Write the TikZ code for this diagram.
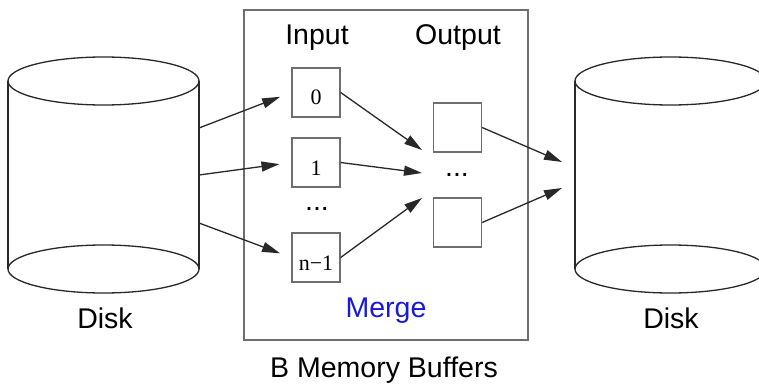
\documentclass[tikz,border=0pt]{standalone}
\usepackage{fontspec}
\setmainfont{Liberation Sans}
\newfontfamily\serifnum{Liberation Serif}
\usetikzlibrary{arrows.meta}
\definecolor{mergeblue}{RGB}{25,25,215}
\definecolor{edgegray}{RGB}{110,110,110}
\definecolor{linedark}{RGB}{40,40,40}
\begin{document}
\begin{tikzpicture}[x=1pt,y=-1pt,
  lbl/.style={font=\fontsize{28.5}{31}\selectfont, inner sep=0pt, anchor=base},
  buf/.style={draw=edgegray, line width=1.3pt, minimum width=48pt, minimum height=49pt, inner sep=0pt, font=\serifnum\fontsize{22}{25}\selectfont, text height=25pt, text depth=0pt},
  cyl/.style={draw=linedark, line width=1.3pt},
  flow/.style={draw=linedark, line width=1.3pt, -{Triangle[length=18pt,width=10pt]}},
]
\useasboundingbox (0,0) rectangle (759,385);

% memory box
\node[draw=edgegray, line width=2pt, minimum width=284pt, minimum height=330pt, inner sep=0pt] (mem) at (386,175) {};

% left disk
\draw[cyl] (103.5,81) ellipse [x radius=95.5, y radius=24];
\draw[cyl] (103.5,269) ellipse [x radius=95.5, y radius=24];
\draw[cyl] (8,81) -- (8,269);
\draw[cyl] (199,81) -- (199,269);
\node[minimum width=191pt, minimum height=188pt, inner sep=0pt] (ldisk) at (103.5,175) {};

% right disk
\draw[cyl] (670.5,81) ellipse [x radius=95.5, y radius=24];
\draw[cyl] (670.5,269) ellipse [x radius=95.5, y radius=24];
\draw[cyl] (575,81) -- (575,269);
\draw[cyl] (766,81) -- (766,269);
\node[minimum width=191pt, minimum height=188pt, inner sep=0pt] (rdisk) at (670.5,175) {};

% buffers
\node[buf] (i0) at (316,92.5) {0};
\node[buf] (i1) at (316,162.5) {1};
\node[buf] (in) at (316,257.5) {n−1};
\node[buf] (o1) at (457.5,127.5) {};
\node[buf] (o2) at (457.5,222.5) {};

% texts
\node[lbl] (tin) at (317,45) {Input};
\node[lbl] (tout) at (458,45) {Output};
\node[lbl] (idots) at (317,210) {...};
\node[lbl] (odots) at (457,176) {...};
\node[lbl, text=mergeblue] (merge) at (386,317) {Merge};
\node[lbl] (bmb) at (384,377) {B Memory Buffers};
\node[lbl] (dl) at (105,328) {Disk};
\node[lbl] (dr) at (671,328) {Disk};

% connector ends
\coordinate (l1) at (199,128);
\coordinate (l2) at (199,175);
\coordinate (l3) at (199,223);
\coordinate (m0) at (422,150);
\coordinate (m1) at (422,173);
\coordinate (m2) at (422,198);
\coordinate (r1) at (562,162);
\coordinate (r2) at (562,188);

\draw[flow, shorten >=12pt] (l1) -- (i0.west);
\draw[flow, shorten >=12pt] (l2) -- (i1.west);
\draw[flow, shorten >=12pt] (l3) -- (in.west);
\draw[flow] (i0.east) -- (m0);
\draw[flow] (i1.east) -- (m1);
\draw[flow] (in.east) -- (m2);
\draw[flow] (o1.east) -- (r1);
\draw[flow] (o2.east) -- (r2);
\end{tikzpicture}
\end{document}
